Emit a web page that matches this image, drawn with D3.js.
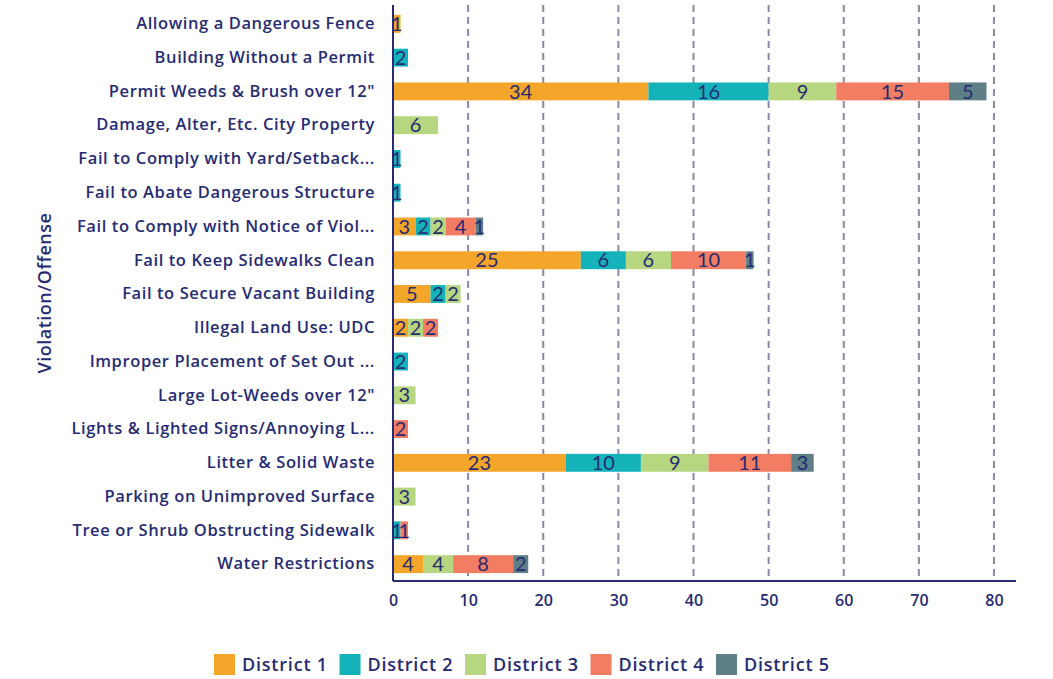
<!DOCTYPE html>
<html>
<head>
<meta charset="utf-8">
<script src="https://cdn.jsdelivr.net/npm/d3@7"></script>
<style>
  body { margin: 0; background: #fff; }
  #wrapper { width: 1053px; height: 679px; }
</style>
</head>
<body>
<div id="wrapper"></div>
<script>
// categorias (de cima para baixo)
const categories = [
  "Allowing a Dangerous Fence",
  "Building Without a Permit",
  "Permit Weeds & Brush over 12\"",
  "Damage, Alter, Etc. City Property",
  "Fail to Comply with Yard/Setback...",
  "Fail to Abate Dangerous Structure",
  "Fail to Comply with Notice of Viol...",
  "Fail to Keep Sidewalks Clean",
  "Fail to Secure Vacant Building",
  "Illegal Land Use: UDC",
  "Improper Placement of Set Out ...",
  "Large Lot-Weeds over 12\"",
  "Lights & Lighted Signs/Annoying L...",
  "Litter & Solid Waste",
  "Parking on Unimproved Surface",
  "Tree or Shrub Obstructing Sidewalk",
  "Water Restrictions"
]

const seriesNames = ["District 1", "District 2", "District 3", "District 4", "District 5"]

// valores por distrito, na mesma ordem das categorias
const district1 = [1, 0, 34, 0, 0, 0, 3, 25, 5, 2, 0, 0, 0, 23, 0, 0, 4]
const district2 = [0, 2, 16, 0, 1, 1, 2, 6, 2, 0, 2, 0, 0, 10, 0, 1, 0]
const district3 = [0, 0, 9, 6, 0, 0, 2, 6, 2, 2, 0, 3, 0, 9, 3, 0, 4]
const district4 = [0, 0, 15, 0, 0, 0, 4, 10, 0, 2, 0, 0, 2, 11, 0, 1, 8]
const district5 = [0, 0, 5, 0, 0, 0, 1, 1, 0, 0, 0, 0, 0, 3, 0, 0, 2]

const xTicks = [0, 10, 20, 30, 40, 50, 60, 70, 80]

const colors = ["#f4a62a", "#14b3b9", "#b6d680", "#f27d62", "#5e7f86"]
const navy = "#262b74"

const seriesValues = [district1, district2, district3, district4, district5]
const table = categories.map((c, i) => {
  const row = { category: c }
  seriesNames.forEach((s, j) => row[s] = seriesValues[j][i])
  return row
})

const dimensions = {
  width: 1053,
  height: 679,
  margin: { top: 7, right: 37, bottom: 98, left: 393 }
}
dimensions.boundedWidth = dimensions.width - dimensions.margin.left - dimensions.margin.right
dimensions.boundedHeight = dimensions.height - dimensions.margin.top - dimensions.margin.bottom

const svg = d3.select("#wrapper")
  .append("svg")
    .attr("width", dimensions.width)
    .attr("height", dimensions.height)
    .style("font-family", "'Open Sans', sans-serif")

const bounds = svg.append("g")
  .attr("transform", `translate(${dimensions.margin.left},${dimensions.margin.top})`)

// escalas
const xScale = d3.scaleLinear()
  .domain([0, 80])
  .range([0, 601])

const yScale = d3.scaleBand()
  .domain(categories)
  .range([0, dimensions.boundedHeight])
  .paddingInner(0.47)
  .paddingOuter(0.235)

// linhas de grade tracejadas
bounds.append("g")
  .selectAll("line")
  .data(xTicks.filter(d => d > 0))
  .join("line")
    .attr("x1", d => xScale(d))
    .attr("x2", d => xScale(d))
    .attr("y1", -2)
    .attr("y2", dimensions.boundedHeight)
    .attr("stroke", "#8a87ad")
    .attr("stroke-width", 2)
    .attr("stroke-dasharray", "7,5")

// empilhamento
const stack = d3.stack().keys(seriesNames)
const stacked = stack(table)

const layers = bounds.append("g")
  .selectAll("g")
  .data(stacked)
  .join("g")
    .attr("fill", (d, i) => colors[i])

layers.selectAll("rect")
  .data(d => d.filter(p => p[1] - p[0] > 0))
  .join("rect")
    .attr("x", d => xScale(d[0]))
    .attr("width", d => xScale(d[1]) - xScale(d[0]))
    .attr("y", d => yScale(d.data.category))
    .attr("height", yScale.bandwidth())

// rótulos dos segmentos
const labelGroup = bounds.append("g")
stacked.forEach(layer => {
  labelGroup.selectAll(null)
    .data(layer.filter(p => p[1] - p[0] > 0))
    .join("text")
      .attr("x", d => (xScale(d[0]) + xScale(d[1])) / 2)
      .attr("y", d => yScale(d.data.category) + yScale.bandwidth() / 2)
      .attr("dy", "0.36em")
      .attr("text-anchor", "middle")
      .attr("fill", navy)
      .style("font-family", "Lato, sans-serif")
      .style("font-size", "20px")
      .style("font-weight", 400)
      .text(d => d[1] - d[0])
})

// eixo y
const yAxisGenerator = d3.axisLeft(yScale).tickSize(0).tickPadding(18)
const yAxis = bounds.append("g").call(yAxisGenerator)
yAxis.select(".domain").attr("stroke", navy).attr("stroke-width", 2)
  .attr("d", `M0,-2V${dimensions.boundedHeight}`)
yAxis.selectAll("text")
  .attr("fill", navy)
  .style("font-size", "16.5px")
  .style("font-weight", 600)
  .style("font-family", "'Open Sans', sans-serif")
  .style("letter-spacing", "0.6px")

// eixo x
const xAxisGenerator = d3.axisBottom(xScale).tickValues(xTicks).tickSize(0).tickPadding(14)
const xAxis = bounds.append("g")
  .attr("transform", `translate(0,${dimensions.boundedHeight})`)
  .call(xAxisGenerator)
xAxis.select(".domain").attr("stroke", navy).attr("stroke-width", 2)
  .attr("d", "M0,0H623")
xAxis.selectAll("text")
  .attr("fill", navy)
  .style("font-family", "'Open Sans', sans-serif")
  .style("font-size", "16px")
  .style("font-weight", 600)

// título do eixo y
svg.append("text")
  .attr("transform", "translate(51,293) rotate(-90)")
  .attr("text-anchor", "middle")
  .attr("fill", navy)
  .style("font-size", "18px")
  .style("font-weight", 600)
  .style("letter-spacing", "0.5px")
  .text("Violation/Offense")

// legenda
const legend = svg.append("g")
  .attr("transform", "translate(214,654)")
const legendItems = legend.selectAll("g")
  .data(seriesNames)
  .join("g")
    .attr("transform", (d, i) => `translate(${i * 125.5},0)`)
legendItems.append("rect")
  .attr("width", 21)
  .attr("height", 21)
  .attr("fill", (d, i) => colors[i])
legendItems.append("text")
  .attr("x", 28)
  .attr("y", 11)
  .attr("dy", "0.36em")
  .attr("fill", navy)
  .style("font-size", "18px")
  .style("font-weight", 600)
  .style("letter-spacing", "0.8px")
  .text(d => d)
</script>
</body>
</html>
